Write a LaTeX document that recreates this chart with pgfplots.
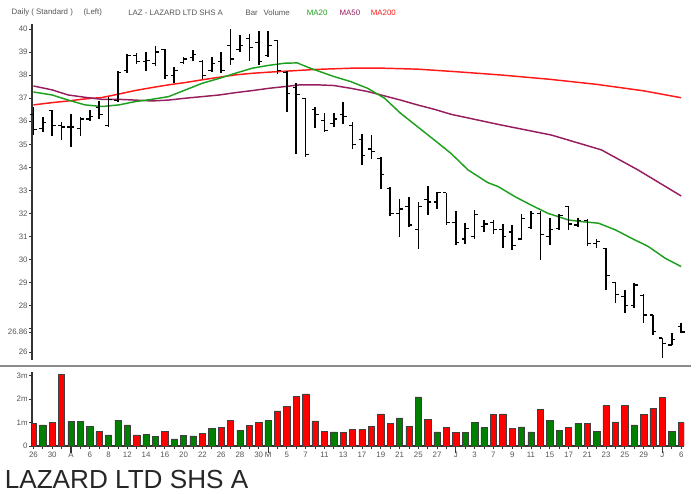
\documentclass[border=0pt]{standalone}
\usepackage{pgfplots}
\usepackage{pgfplotstable}
\pgfplotsset{compat=1.18}
\usepackage{fontspec}
\setmainfont{Liberation Sans}
\definecolor{upg}{RGB}{0,128,0}
\definecolor{dnr}{RGB}{255,0,0}
\definecolor{maA}{RGB}{30,160,30}
\definecolor{maB}{RGB}{150,30,95}
\definecolor{maC}{RGB}{255,25,25}
\definecolor{txt}{RGB}{85,85,85}
\pgfdeclareplotmark{ohlcopen}{\pgfpathmoveto{\pgfpoint{-2.6pt}{0pt}}\pgfpathlineto{\pgfpoint{0pt}{0pt}}\pgfusepathqstroke}
\pgfdeclareplotmark{ohlcclose}{\pgfpathmoveto{\pgfpoint{0pt}{0pt}}\pgfpathlineto{\pgfpoint{2.6pt}{0pt}}\pgfusepathqstroke}
\pgfplotstableread{
i o h l c v g
0 36.3 36.6 35.4 35.65 0.97 0
1 35.7 36.2 35.55 35.95 0.90 1
2 36.45 36.5 35.35 35.8 1.00 0
3 35.8 35.95 35.2 35.75 3.06 0
4 35.75 36.3 34.9 35.75 1.04 1
5 35.7 36.2 35.35 36.1 1.05 1
6 36.1 36.5 36.0 36.2 0.83 1
7 36.6 36.9 36.1 36.3 0.61 0
8 35.8 37.05 35.75 36.95 0.47 1
9 36.9 38.2 36.85 38.1 1.11 1
10 38.2 38.9 38.1 38.85 0.90 1
11 38.85 38.95 38.5 38.6 0.47 0
12 38.6 39.0 38.2 38.65 0.48 1
13 38.5 39.25 38.4 39.0 0.40 1
14 39.1 39.15 37.85 38.0 0.61 0
15 38.0 38.35 37.65 38.2 0.30 1
16 38.55 38.8 38.5 38.7 0.46 1
17 38.75 39.1 38.6 38.9 0.43 1
18 38.6 38.65 37.85 38.0 0.54 0
19 38.2 38.8 38.15 38.5 0.75 1
20 38.6 39.0 38.1 38.2 0.78 0
21 39.3 40.0 38.45 38.7 1.11 0
22 39.1 39.75 39.0 39.3 0.68 1
23 39.6 39.8 38.6 39.2 0.87 0
24 39.4 39.9 38.45 38.6 1.01 0
25 38.85 39.9 38.8 39.3 1.08 1
26 39.5 39.5 38.05 38.2 1.50 0
27 38.1 38.2 36.4 37.2 1.68 0
28 37.45 37.65 34.6 37.15 2.13 0
29 37.0 37.0 34.45 34.55 2.23 0
30 36.5 36.6 35.7 36.3 1.07 0
31 36.05 36.35 35.55 35.6 0.64 0
32 35.9 36.35 35.75 36.1 0.60 1
33 36.3 36.85 35.9 36.2 0.57 0
34 35.8 35.95 34.8 35.0 0.72 0
35 35.2 35.45 34.1 34.5 0.70 0
36 34.8 35.4 34.35 34.7 0.84 0
37 34.4 34.45 33.05 33.7 1.37 0
38 33.1 33.15 31.9 32.0 0.95 0
39 32.0 32.65 31.0 32.2 1.20 1
40 32.3 32.7 31.4 31.5 0.85 0
41 31.3 32.5 30.45 32.3 2.10 1
42 32.6 33.2 31.95 32.5 1.13 0
43 32.5 32.95 32.2 32.9 0.60 1
44 32.9 32.9 31.5 31.6 0.80 0
45 31.6 32.1 30.65 30.75 0.58 0
46 30.9 31.6 30.7 31.35 0.57 1
47 31.0 32.15 30.9 31.95 1.00 1
48 31.45 31.7 31.2 31.55 0.80 1
49 31.6 31.7 31.1 31.3 1.35 0
50 31.3 31.55 30.5 31.0 1.37 0
51 31.2 31.5 30.4 30.6 0.75 0
52 30.9 32.0 30.85 31.8 0.82 1
53 31.4 32.1 31.35 32.0 0.60 1
54 32.0 32.1 30.0 31.1 1.57 0
55 31.0 31.8 30.65 31.3 1.10 1
56 31.35 32.0 31.3 31.9 0.68 1
57 32.3 32.3 31.3 31.55 0.80 0
58 31.5 31.8 31.4 31.7 0.97 1
59 31.7 31.75 30.6 30.7 0.97 0
60 30.7 30.9 30.5 30.8 0.63 1
61 30.5 30.5 28.7 29.3 1.72 0
62 29.0 29.05 28.1 28.5 1.03 0
63 28.4 28.7 27.7 28.0 1.72 0
64 28.0 29.0 27.9 28.9 0.90 1
65 28.45 28.5 27.25 27.6 1.35 0
66 27.6 27.6 26.75 26.9 1.60 0
67 26.6 26.6 25.75 26.35 2.07 0
68 26.3 26.8 26.3 26.55 0.63 1
69 27.1 27.25 26.85 26.86 1.00 0
}\ohlc
\begin{document}
\begin{tikzpicture}
\path[use as bounding box] (0pt,0pt) rectangle (524.25pt,369.75pt);
% title line
\begin{scope}[every node/.style={anchor=west, inner sep=0pt, font=\fontsize{5.9pt}{6pt}\selectfont}]
\node[text=txt] at (8.6pt,360.3pt) {Daily ( Standard )};
\node[text=txt] at (62.5pt,360.3pt) {(Left)};
\node[text=txt] at (96pt,360.3pt) {LAZ - LAZARD LTD SHS A};
\node[text=txt] at (184pt,360.3pt) {Bar};
\node[text=txt] at (197.5pt,360.3pt) {Volume};
\node[text=maA] at (230pt,360.3pt) {MA20};
\node[text=maB] at (254.5pt,360.3pt) {MA50};
\node[text=maC] at (278pt,360.3pt) {MA200};
\end{scope}
\node[anchor=base west, inner sep=0pt, text=black!85, font=\fontsize{19.6pt}{21pt}\selectfont] at (3.4pt,3.6pt) {LAZARD LTD SHS A};
% separator
\draw[black!45, line width=1.6pt] (0pt,95.25pt) -- (518pt,95.25pt);
% price panel
\begin{axis}[
  at={(24pt,99.75pt)}, anchor=south west,
  scale only axis, width=489pt, height=251.7pt,
  xmin=-0.15, xmax=69.3, ymin=25.65, ymax=40.2,
  axis x line=none, axis y line*=left,
  axis line style={-, draw=black!80, line width=1.2pt},
  ytick={26,27,...,40},
  yticklabels={26,,28,29,30,31,32,33,34,35,36,37,38,39,40},
  extra y ticks={26.86}, extra y tick labels={26.86},
  tick align=outside, major tick length=2.3pt,
  tick style={black!80, line width=0.6pt},
  ticklabel style={font=\fontsize{5.9pt}{6pt}\selectfont, text=txt, inner sep=0.8pt},
  clip=false,
]
\addplot[maC, line width=1.1pt] coordinates {(0,36.71) (2,36.81) (3.7,36.88) (5.5,36.97) (7.3,37.03) (9.1,37.18) (10.8,37.33) (12.6,37.46) (14.4,37.58) (16.2,37.68) (18,37.8) (19.8,37.91) (21.5,38.01) (23.3,38.08) (25.1,38.13) (26.8,38.17) (30.2,38.25) (33.8,38.3) (37.4,38.3) (40.9,38.26) (45,38.15) (50,38.0) (55,37.82) (60,37.6) (65,37.32) (69,37.02)};
\addplot[maB, line width=1.1pt] coordinates {(0,37.53) (2,37.36) (3.7,37.14) (5.5,37.04) (7.3,36.95) (9.1,36.95) (10.8,36.92) (12.6,36.88) (14.4,36.92) (16.2,37.0) (18,37.07) (19.8,37.14) (21.5,37.24) (23.3,37.33) (25.1,37.43) (26.7,37.5) (28.4,37.58) (30.2,37.58) (32,37.55) (33.8,37.43) (35.6,37.29) (37.4,37.1) (39.1,36.92) (40.9,36.71) (42.7,36.52) (44.5,36.3) (49.8,35.84) (55.2,35.4) (60.5,34.76) (64.4,33.89) (69,32.76)};
\addplot[maA, line width=1.1pt] coordinates {(0,37.27) (2,37.14) (3.7,36.92) (5.5,36.71) (7.3,36.64) (9.1,36.71) (10.8,36.85) (12.6,36.95) (14.4,37.07) (16.2,37.36) (18,37.65) (19.8,37.86) (21.5,38.08) (23.3,38.3) (25,38.42) (26.8,38.52) (28.1,38.53) (29.5,38.3) (32,37.94) (33.8,37.72) (35.6,37.43) (37.4,37.0) (39.1,36.35) (40.9,35.77) (42.7,35.19) (44.5,34.6) (46.3,33.89) (48.4,33.34) (49.5,33.17) (51.3,32.73) (53,32.37) (54.8,32.01) (57,31.72) (58.4,31.65) (60.2,31.58) (62,31.29) (63.7,30.93) (65.5,30.57) (67.3,30.06) (69,29.7)};
% OHLC: high-low range with close tick
\addplot[black, line width=0.9pt, only marks, mark=ohlcclose,
  error bars/.cd, y dir=both, y explicit, error mark=none,
  error bar style={black, line width=1.2pt}]
  table[x=i, y=c, y error plus expr=\thisrow{h}-\thisrow{c}, y error minus expr=\thisrow{c}-\thisrow{l}] {\ohlc};
% open tick
\addplot[black, line width=0.9pt, only marks, mark=ohlcopen] table[x=i, y=o] {\ohlc};
\end{axis}
% volume panel
\begin{axis}[
  at={(24pt,35.25pt)}, anchor=south west,
  scale only axis, width=489pt, height=55.5pt,
  xmin=-0.15, xmax=69.3, ymin=0, ymax=3.16,
  axis x line*=bottom, axis y line*=left,
  axis line style={-, draw=black!80, line width=1.2pt},
  ytick={0,1,2,3}, yticklabels={0,1m,2m,3m},
  xtick={0,2,4,6,8,10,12,14,16,18,20,22,24,25,27,29,31,33,35,37,39,41,43,45,47,49,51,53,55,57,59,61,63,65,67,69},
  xticklabels={26,30,A,6,8,12,14,16,20,22,26,28,30,M,5,7,11,13,17,19,21,25,27,J,3,7,9,11,15,17,21,23,25,29,J,6},
  minor xtick={0,1,...,69},
  extra x ticks={4,25,45,67}, extra x tick labels={},
  extra x tick style={major tick length=5pt, tick style={line width=0.9pt}},
  tick align=outside, major tick length=2.3pt, minor tick length=2.3pt,
  tick style={black!80, line width=0.6pt},
  ticklabel style={font=\fontsize{5.9pt}{6pt}\selectfont, text=txt, inner sep=0.8pt},
  xticklabel style={yshift=-1.5pt},
]
\addplot[ybar, bar width=4.7pt, bar shift=0pt, fill=dnr, draw=black!75, line width=0.4pt,
  restrict expr to domain={\thisrow{g}}{-0.5:0.5}, unbounded coords=discard]
  table[x=i, y=v] {\ohlc};
\addplot[ybar, bar width=4.7pt, bar shift=0pt, fill=upg, draw=black!75, line width=0.4pt,
  restrict expr to domain={\thisrow{g}}{0.5:1.5}, unbounded coords=discard]
  table[x=i, y=v] {\ohlc};
\end{axis}
\end{tikzpicture}
\end{document}
